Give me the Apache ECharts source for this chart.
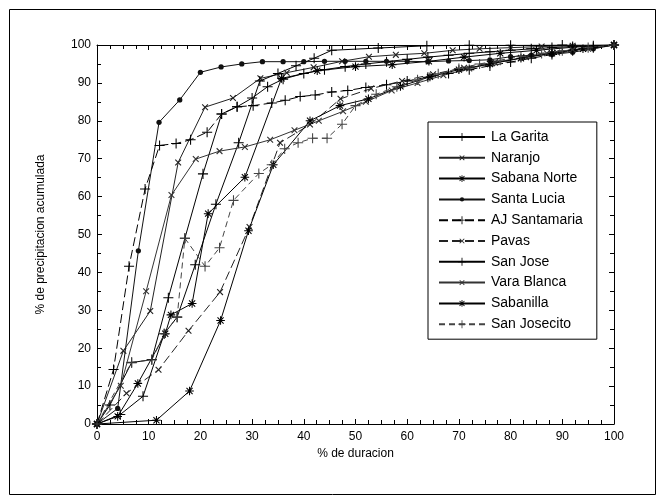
<!DOCTYPE html>
<html><head><meta charset="utf-8">
<script src="https://cdn.jsdelivr.net/npm/echarts@6/dist/echarts.min.js"></script>
<style>html,body{margin:0;padding:0;background:#fff}#c{width:665px;height:503px}</style>
</head><body><div id="c"></div>
<script>
// ---------------- data ----------------
const seriesNames = ["La Garita","Naranjo","Sabana Norte","Santa Lucia","AJ Santamaria","Pavas","San Jose","Vara Blanca","Sabanilla","San Josecito"];
const xTicks = [0,10,20,30,40,50,60,70,80,90,100];
const yTicks = [0,10,20,30,40,50,60,70,80,90,100];

const laGarita = [[0,0],[2.5,5],[6.7,16.2],[10.6,17],[13.8,33.3],[17,49],[20.5,66],[24.1,81.8],[27.1,83.7],[30,86],[33,89],[36,91],[40,92.5],[44,93.5],[48,94.3],[52,95],[56,95.6],[60,96.2],[64,96.8],[68,97.3],[72,97.8],[76,98.2],[80,98.6],[84,99],[88,99.3],[92,99.6],[96,99.8],[100,100]];
const naranjo = [[0,0],[5.1,19.3],[10.3,29.8],[15.7,69],[20.9,83.6],[26.3,86],[31.6,91.2],[36.7,92.7],[41.9,94.1],[47.4,95.7],[52.6,96.9],[57.8,97.4],[63.3,97.8],[68.8,98.6],[74,99],[80,99.3],[86,99.6],[92,99.8],[100,100]];
const sabanaNorte = [[0,0],[4,2],[7.9,10.7],[13.2,23.8],[14.3,28.8],[18.4,31.8],[21.5,55.5],[28.6,65.1],[35.7,91.2],[42.6,93.2],[50,94.3],[57.1,94.8],[64.2,95.7],[71,96.8],[78,97.8],[85,98.6],[92,99.4],[100,100]];
const santaLucia = [[0,0],[4,4.1],[8,45.7],[12,79.6],[16,85.5],[20,92.8],[24,94.2],[28,95],[32,95.6],[36,95.6],[40,95.6],[44,95.7],[48,95.7],[52,95.7],[56,95.7],[60,95.7],[64,95.6],[68,95.8],[72,95.9],[76,96.1],[80,96.9],[84,97.3],[88,97.5],[92,98.1],[96,99],[100,100]];
const ajSantamaria = [[0,0],[3.2,14.4],[6.2,41.6],[9.3,62],[12.1,73.5],[15.3,74],[18.1,75],[21.3,77],[24.1,81.8],[27.1,83.7],[30.2,84],[33.8,84.7],[36.4,85.4],[39.3,86.4],[42.2,86.8],[45.4,87.6],[48.5,88],[52,88.8],[56,89.5],[60,90.5],[64,91.5],[68,92.5],[72,93.5],[76,94.5],[80,95.5],[84,96.5],[88,97.5],[92,98.5],[96,99.3],[100,100]];
const pavas = [[0,0],[5.7,8.1],[11.9,14.3],[17.7,24.6],[23.8,34.8],[29.5,52],[35.4,74.2],[41.2,79],[47.1,85.8],[53,88.5],[59,90.5],[65,92.3],[71,94],[77,95.5],[83,96.8],[89,98],[95,99],[100,100]];
const sanJose = [[0,0],[4.5,2.5],[8.9,7.3],[13,23.8],[15.5,28.2],[19,42],[23,58],[27.4,74.2],[31.5,90.5],[35,92.5],[38.5,94.5],[42,96.5],[45.4,98.6],[54.4,99.2],[63.8,99.8],[72,99.9],[80,99.9],[90,100],[100,100]];
const varaBlanca = [[0,0],[4.6,10.1],[9.5,35],[14.4,60.4],[19.1,69.9],[23.7,72],[28.6,73.1],[33.5,75],[38.2,77.5],[42.9,80],[47.6,82.5],[52,85],[57,88],[62,90],[67,92],[72,93.8],[77,95.3],[82,96.6],[87,97.8],[92,98.8],[100,100]];
const sabanilla = [[0,0],[11.5,1],[17.9,8.7],[23.9,27.3],[29.3,51],[34.1,68.4],[41.2,80],[47,84],[52.5,85.8],[58.7,89.1],[64.4,91.6],[70,93.5],[76,95],[82,96.5],[88,97.8],[94,99],[100,100]];
const sanJosecito = [[0,0],[6.7,16.3],[10.6,16.9],[13,23.8],[15.5,28.2],[17,49],[20.9,41.6],[23.7,46.5],[26.4,59],[31.3,66.1],[33.8,68.4],[36.3,72.6],[38.9,74.2],[41.7,75.4],[44.5,75.4],[47.4,79.1],[50,84],[54,87],[58,89],[62,90.8],[66,92.4],[70,93.8],[74,95],[78,96],[82,97],[86,97.8],[90,98.5],[95,99.3],[100,100]];

// ---------------- symbols (drawn in a 0..100 frame, corners anchored) ----------------
const FRAME = 'M0,0 M100,100 ';
function armsPath(angles, len, half) {
  let p = 'path://' + FRAME;
  angles.forEach(a => {
    const r = a * Math.PI / 180, dx = Math.cos(r), dy = Math.sin(r), nx = -dy, ny = dx;
    const pts = [[50+len*dx+half*nx,50+len*dy+half*ny],[50+len*dx-half*nx,50+len*dy-half*ny],[50-len*dx-half*nx,50-len*dy-half*ny],[50-len*dx+half*nx,50-len*dy+half*ny]];
    p += 'M' + pts.map(q => q[0].toFixed(2)+','+q[1].toFixed(2)).join('L') + 'Z ';
  });
  return p;
}
function dotPath(rad) {
  return 'path://' + FRAME + 'M' + (50-rad) + ',50 A' + rad + ',' + rad + ' 0 1 1 ' + (50+rad) + ',50 A' + rad + ',' + rad + ' 0 1 1 ' + (50-rad) + ',50Z';
}
const SYM_PLUS = armsPath([0,90], 42, 4.4);
const SYM_X = armsPath([45,135], 34, 4.6);
const SYM_STAR = armsPath([0,45,90,135], 36, 4.4);
const SYM_DOT = dotPath(22);
const SYM_SIZE = 12;

const styles = [
  {d: laGarita,     sym: SYM_PLUS, dash: 'solid', color: '#000'},
  {d: naranjo,      sym: SYM_X,    dash: 'solid', color: '#222'},
  {d: sabanaNorte,  sym: SYM_STAR, dash: 'solid', color: '#000'},
  {d: santaLucia,   sym: SYM_DOT,  dash: 'solid', color: '#111'},
  {d: ajSantamaria, sym: SYM_PLUS, dash: [9,4],   color: '#000'},
  {d: pavas,        sym: SYM_X,    dash: [9,4],   color: '#222'},
  {d: sanJose,      sym: SYM_PLUS, dash: 'solid', color: '#000'},
  {d: varaBlanca,   sym: SYM_X,    dash: 'solid', color: '#333'},
  {d: sabanilla,    sym: SYM_STAR, dash: 'solid', color: '#000'},
  {d: sanJosecito,  sym: SYM_PLUS, dash: [6,4],   color: '#444'}
];

const FONT = 'Liberation Sans, Arial, sans-serif';
function axisCfg(minorSplit) {
  return {
    type: 'value', min: 0, max: 100, interval: 10,
    axisLine: {show: true, onZero: false, lineStyle: {color: '#000', width: 1}},
    axisTick: {show: true, inside: true, length: 5, lineStyle: {color: '#000'}},
    minorTick: {show: true, splitNumber: minorSplit, length: 4, lineStyle: {color: '#000'}},
    splitLine: {show: false},
    axisLabel: {color: '#000', fontFamily: FONT, fontSize: 12}
  };
}
const nameStyle = {color: '#000', fontFamily: FONT, fontSize: 12};

const chart = echarts.init(document.getElementById('c'), null, {renderer: 'canvas'});
chart.setOption({
  backgroundColor: '#fff',
  animation: false,
  grid: {left: 97, right: 51, top: 45, bottom: 79},
  graphic: [{type: 'rect', shape: {x: 9.5, y: 9.5, width: 646, height: 485}, style: {fill: 'none', stroke: '#000', lineWidth: 1}, silent: true, z: -1}],
  xAxis: [
    Object.assign(axisCfg(4), {position: 'bottom', name: '% de duracion', nameLocation: 'middle', nameGap: 22, nameTextStyle: nameStyle,
      axisLabel: {color: '#000', fontFamily: FONT, fontSize: 12, margin: 7}}),
    Object.assign(axisCfg(4), {position: 'top', axisLabel: {show: false}})
  ],
  yAxis: [
    Object.assign(axisCfg(2), {position: 'left', name: '% de precipitacion acumulada', nameLocation: 'middle', nameGap: 50, nameTextStyle: nameStyle,
      axisLabel: {color: '#000', fontFamily: FONT, fontSize: 12, margin: 6}}),
    Object.assign(axisCfg(2), {position: 'right', axisLabel: {show: false}})
  ],
  legend: {
    orient: 'vertical', left: 428, top: 122, itemWidth: 46, itemHeight: 12, itemGap: 6.8,
    padding: [8, 14, 8, 10], borderColor: '#000', borderWidth: 1, backgroundColor: '#fff',
    textStyle: {color: '#000', fontFamily: FONT, fontSize: 14, padding: [0,0,0,1]},
    data: seriesNames
  },
  series: styles.map((s, i) => ({
    name: seriesNames[i], type: 'line', data: s.d,
    symbol: s.sym, symbolSize: SYM_SIZE, showSymbol: true,
    lineStyle: {color: s.color, width: 1, type: s.dash},
    itemStyle: {color: s.color, borderWidth: 0},
    emphasis: {disabled: true}
  }))
});
</script></body></html>
